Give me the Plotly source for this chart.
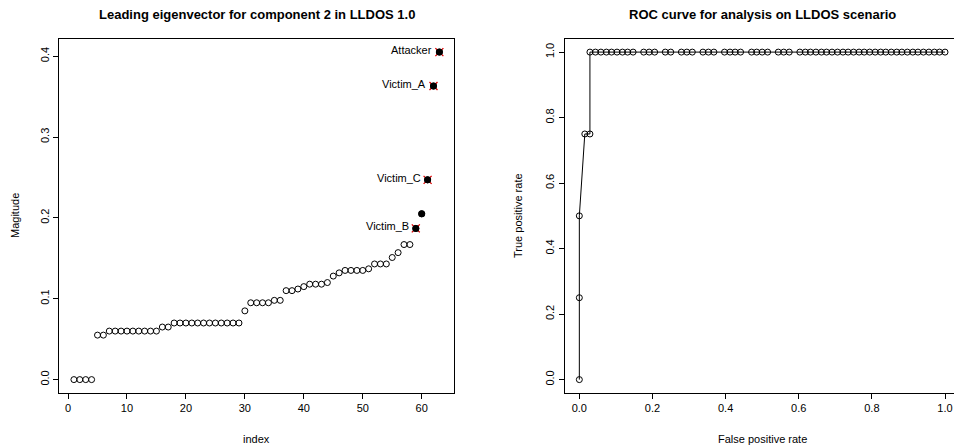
import plotly.graph_objects as go

# ---------------- data ----------------
eig_index = list(range(1, 64))
eig_values = [0.0, 0.0, 0.0, 0.0,
              0.055, 0.055,
              0.060, 0.060, 0.060, 0.060, 0.060, 0.060, 0.060, 0.060, 0.060,
              0.065, 0.065,
              0.070, 0.070, 0.070, 0.070, 0.070, 0.070, 0.070, 0.070, 0.070, 0.070, 0.070, 0.070,
              0.085,
              0.095, 0.095, 0.095, 0.095,
              0.098, 0.098,
              0.110, 0.110, 0.112, 0.115,
              0.118, 0.118, 0.118, 0.120,
              0.128, 0.132,
              0.135, 0.135, 0.135, 0.135, 0.137,
              0.143, 0.143, 0.143,
              0.151, 0.157, 0.167, 0.167,
              0.187, 0.205, 0.247, 0.363, 0.405]
filled_index = [59, 60, 61, 62, 63]
marked_index = [59, 61, 62, 63]
label_index = [63, 62, 61, 59]
label_text = ["Attacker", "Victim_A", "Victim_C", "Victim_B"]

fpr = [0.0, 0.0, 0.0, 0.015, 0.029,
       0.029, 0.044, 0.059, 0.074, 0.088, 0.103, 0.118, 0.132, 0.147,
       0.176, 0.191, 0.206,
       0.235, 0.250,
       0.279, 0.294, 0.309,
       0.338, 0.353, 0.368,
       0.397, 0.412, 0.426, 0.441,
       0.471, 0.485, 0.500, 0.515,
       0.544, 0.559, 0.574,
       0.603, 0.618, 0.632, 0.647, 0.662, 0.676, 0.691, 0.706, 0.721, 0.735,
       0.750, 0.765, 0.779, 0.794, 0.809, 0.824, 0.838, 0.853, 0.868, 0.882,
       0.897, 0.912, 0.926, 0.941, 0.956, 0.971, 0.985, 1.0]
tpr = [0.0, 0.25, 0.5, 0.75, 0.75] + [1.0] * 59

left_xticks = [0, 10, 20, 30, 40, 50, 60]
left_yticks = [0.0, 0.1, 0.2, 0.3, 0.4]
roc_ticks = [0.0, 0.2, 0.4, 0.6, 0.8, 1.0]

# ---------------- figure ----------------
W, H = 954, 447
FONT = "Liberation Sans, Arial, Helvetica, sans-serif"

fig = go.Figure()

val = dict(zip(eig_index, eig_values))

fig.add_trace(go.Scatter(x=eig_index, y=eig_values, mode="markers",
                         marker=dict(symbol="circle-open", size=6, color="black",
                                     line=dict(width=1, color="black")),
                         xaxis="x", yaxis="y", showlegend=False, hoverinfo="skip"))
fig.add_trace(go.Scatter(x=marked_index, y=[val[i] for i in marked_index], mode="markers",
                         marker=dict(symbol="x-thin-open", size=8, color="#dd0000",
                                     line=dict(width=1.3, color="#dd0000")),
                         xaxis="x", yaxis="y", showlegend=False, hoverinfo="skip"))
fig.add_trace(go.Scatter(x=filled_index, y=[val[i] for i in filled_index], mode="markers",
                         marker=dict(symbol="circle", size=7, color="black"),
                         xaxis="x", yaxis="y", showlegend=False, hoverinfo="skip"))

fig.add_trace(go.Scatter(x=fpr, y=tpr, mode="lines+markers",
                         line=dict(color="black", width=1),
                         marker=dict(symbol="circle-open", size=6, color="black",
                                     line=dict(width=1, color="black")),
                         xaxis="x2", yaxis="y2", showlegend=False, hoverinfo="skip"))

annotations = []
for i, t in zip(label_index, label_text):
    annotations.append(dict(x=i, y=val[i], xref="x", yref="y", text=t, showarrow=False,
                            xanchor="right", yanchor="middle", xshift=-5, yshift=2,
                            font=dict(size=11, color="black", family=FONT)))

def px_x(p):
    return p / W

def px_y(p):
    return 1 - p / H

# titles
annotations.append(dict(x=px_x(256.5), y=px_y(14), xref="paper", yref="paper",
                        text="<b>Leading eigenvector for component 2 in LLDOS 1.0</b>",
                        showarrow=False, xanchor="center", yanchor="middle",
                        font=dict(size=13, color="black", family=FONT)))
annotations.append(dict(x=px_x(762), y=px_y(14), xref="paper", yref="paper",
                        text="<b>ROC curve for analysis on LLDOS scenario</b>",
                        showarrow=False, xanchor="center", yanchor="middle",
                        font=dict(size=13, color="black", family=FONT)))
# axis titles
annotations.append(dict(x=px_x(256.5), y=px_y(439), xref="paper", yref="paper", text="index",
                        showarrow=False, xanchor="center", yanchor="middle",
                        font=dict(size=11, color="black", family=FONT)))
annotations.append(dict(x=px_x(762), y=px_y(439), xref="paper", yref="paper",
                        text="False positive rate",
                        showarrow=False, xanchor="center", yanchor="middle",
                        font=dict(size=11, color="black", family=FONT)))
annotations.append(dict(x=px_x(15), y=px_y(216), xref="paper", yref="paper", text="Magitude",
                        showarrow=False, xanchor="center", yanchor="middle", textangle=-90,
                        font=dict(size=11, color="black", family=FONT)))
annotations.append(dict(x=px_x(518), y=px_y(216), xref="paper", yref="paper",
                        text="True positive rate",
                        showarrow=False, xanchor="center", yanchor="middle", textangle=-90,
                        font=dict(size=11, color="black", family=FONT)))

axis_common = dict(showgrid=False, zeroline=False, showline=True, linecolor="black",
                   linewidth=1, ticks="outside", ticklen=5, tickcolor="black", tickwidth=1,
                   tickfont=dict(size=11, color="black", family=FONT))

fig.update_layout(
    width=W, height=H,
    margin=dict(l=0, r=0, t=0, b=0),
    paper_bgcolor="white", plot_bgcolor="white",
    font=dict(family=FONT, color="black"),
    annotations=annotations,
    hovermode=False,
    xaxis=dict(domain=[px_x(59.3), px_x(454)], range=[-1.48, 65.48], tickvals=left_xticks,
               mirror=True, anchor="y", **axis_common),
    yaxis=dict(domain=[px_y(392.7), px_y(39)], range=[-0.0162, 0.4212], tickvals=left_yticks,
               tickformat=".1f", tickangle=-90, mirror=True, anchor="x", **axis_common),
    xaxis2=dict(domain=[px_x(564.7), 1.0], range=[-0.04, 1.0246], tickvals=roc_ticks,
                tickformat=".1f", mirror=True, anchor="y2", **axis_common),
    yaxis2=dict(domain=[px_y(392.7), px_y(39)], range=[-0.04, 1.04], tickvals=roc_ticks,
                tickformat=".1f", tickangle=-90, mirror=False, anchor="x2", **axis_common),
)

fig.write_html("out.html", config={"displayModeBar": False, "staticPlot": True},
               post_script="document.body.style.margin='0';document.body.style.overflow='hidden';")
